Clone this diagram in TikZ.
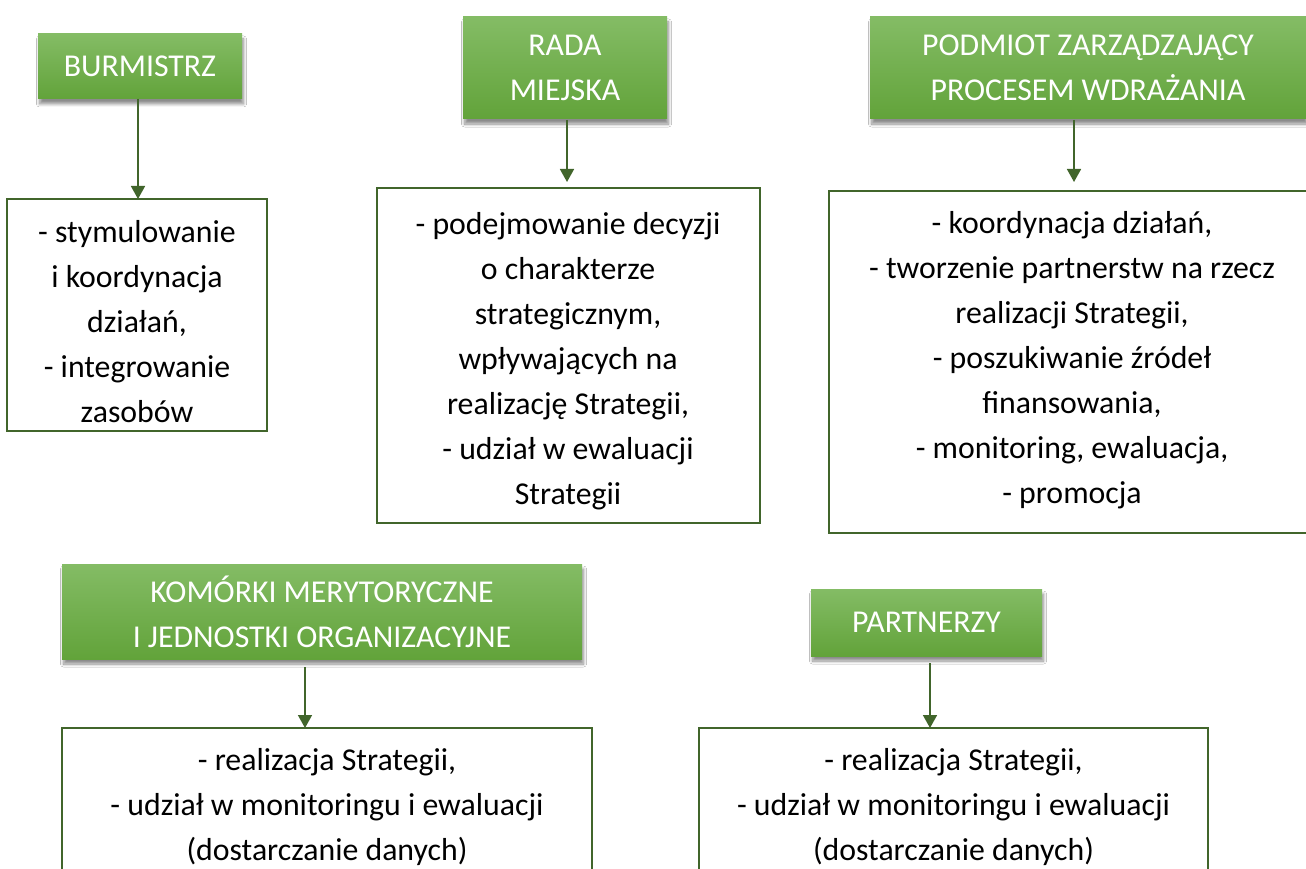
\documentclass[tikz,border=0pt]{standalone}
\usepackage{fontspec}
\setmainfont{Carlito}
\usetikzlibrary{arrows.meta,shadows.blur}
\definecolor{gtop}{HTML}{84BC65}
\definecolor{gbot}{HTML}{62A33A}
\definecolor{dgreen}{HTML}{41652B}
\tikzset{
  txtfont/.style={font=\fontsize{31.8}{45}\selectfont},
  hdr/.style={rectangle, inner sep=0pt, outer sep=0pt, top color=gtop, bottom color=gbot,
    text=white, align=center, txtfont,
    blur shadow={shadow xshift=1.5pt, shadow yshift=-5pt, shadow opacity=45,
      shadow blur radius=3pt, shadow blur steps=8}},
  infobox/.style={rectangle, draw=dgreen, line width=2pt, fill=white, inner sep=0pt, outer sep=0pt},
  infotext/.style={align=center, text=black, inner sep=0pt, txtfont},
  arr/.style={draw=dgreen, line width=1.6pt, -{Triangle[width=14pt,length=13pt]}}
}
\begin{document}
\begin{tikzpicture}[x=1pt,y=-1pt]
\path[use as bounding box, clip] (0,0) rectangle (1306,869);
\fill[white] (0,0) rectangle (1306,869);
% headers
\node[hdr, minimum width=204pt, minimum height=65pt] (h1) at (140,66.5) {BURMISTRZ};
\node[hdr, minimum width=204pt, minimum height=102pt] (h2) at (565,68) {RADA\\MIEJSKA};
\node[hdr, minimum width=436pt, minimum height=102pt] (h3) at (1088,68) {PODMIOT ZARZĄDZAJĄCY\\PROCESEM WDRAŻANIA};
\node[hdr, minimum width=520pt, minimum height=95pt] (h4) at (322,611.5) {KOMÓRKI MERYTORYCZNE\\I JEDNOSTKI ORGANIZACYJNE};
\node[hdr, minimum width=231pt, minimum height=67pt] (h5) at (926.5,622.5) {PARTNERZY};
% boxes
\node[infobox, minimum width=260pt, minimum height=232pt] (b1) at (137,315) {};
\node[infobox, minimum width=383pt, minimum height=335pt] (b2) at (568.5,355.5) {};
\node[infobox, minimum width=486pt, minimum height=342pt] (b3) at (1072,362) {};
\node[infobox, minimum width=530pt, minimum height=200pt] (b4) at (327,828) {};
\node[infobox, minimum width=509pt, minimum height=200pt] (b5) at (953.5,828) {};
% texts
\node[infotext] (t1) at (137,321.5) {- stymulowanie\\i koordynacja\\działań,\\- integrowanie\\zasobów};
\node[infotext] (t2) at (568,361) {- podejmowanie decyzji\\o charakterze\\strategicznym,\\wpływających na\\realizację Strategii,\\- udział w ewaluacji\\Strategii};
\node[infotext] (t3) at (1072,360.5) {- koordynacja działań,\\- tworzenie partnerstw na rzecz\\realizacji Strategii,\\- poszukiwanie źródeł\\finansowania,\\- monitoring, ewaluacja,\\- promocja};
\node[infotext] (t4) at (327,807) {- realizacja Strategii,\\- udział w monitoringu i ewaluacji\\(dostarczanie danych)};
\node[infotext] (t5) at (953.5,807) {- realizacja Strategii,\\- udział w monitoringu i ewaluacji\\(dostarczanie danych)};
% arrow positions
\coordinate (x1) at (138,0);
\coordinate (x2) at (567,0);
\coordinate (x3) at (1074,0);
\coordinate (x4) at (305,0);
\coordinate (x5) at (930,0);
\draw[arr] (h1.south -| x1) -- (b1.north -| x1);
\draw[arr, shorten <=1pt, shorten >=6pt] (h2.south -| x2) -- (b2.north -| x2);
\draw[arr, shorten <=1pt, shorten >=9pt] (h3.south -| x3) -- (b3.north -| x3);
\draw[arr, shorten <=8pt] (h4.south -| x4) -- (b4.north -| x4);
\draw[arr, shorten <=7pt] (h5.south -| x5) -- (b5.north -| x5);
\end{tikzpicture}
\end{document}
